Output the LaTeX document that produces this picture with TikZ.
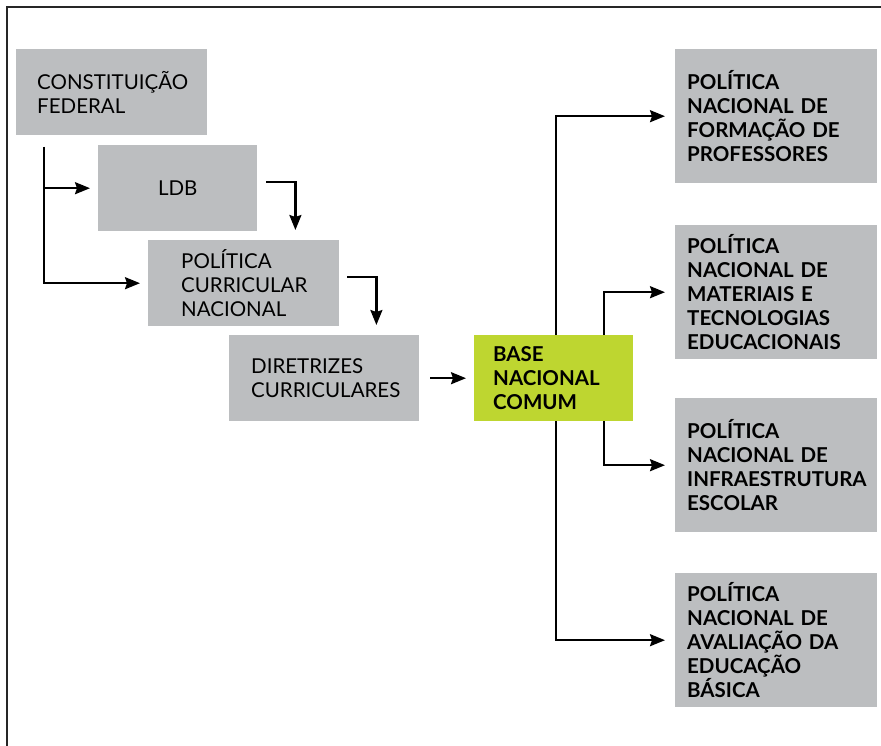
\documentclass[tikz,border=0pt]{standalone}
\usepackage{fontspec}
\setmainfont{Lato}
\usetikzlibrary{arrows.meta,positioning}

\definecolor{boxgray}{RGB}{188,190,192}
\definecolor{basegreen}{RGB}{190,214,48}

\begin{document}
\begin{tikzpicture}[
    x=1pt, y=-1pt,
    graybox/.style={rectangle, fill=boxgray, inner sep=0pt, anchor=north west, align=left, font=\fontsize{20.5}{24}\selectfont},
    leftbox/.style={graybox, minimum height=86pt},
    rightbox/.style={graybox, minimum width=202pt, text width=178pt, minimum height=134pt, font=\fontsize{20.5}{24}\selectfont\bfseries},
    greenbox/.style={graybox, fill=basegreen, minimum width=159pt, text width=121pt, minimum height=86pt, font=\fontsize{20.5}{24}\selectfont\bfseries},
    arrow/.style={-{Stealth[length=15pt,width=12pt,inset=2pt]}, line width=2.2pt}
]
\useasboundingbox (0,0) rectangle (881,746);

% Frame
\draw[line width=2pt, black!85] (7,746) -- (7,7) -- (881,7);

% Left chain
\node[leftbox, minimum width=191pt, text width=149pt] (cf) at (16,49) {CONSTITUIÇÃO\\FEDERAL};
\node[leftbox, minimum width=159pt, align=center] (ldb) at (98,145) {LDB};
\node[leftbox, minimum width=191pt, text width=125pt] (pcn) at (148,240) {POLÍTICA\\CURRICULAR\\NACIONAL};
\node[leftbox, minimum width=190pt, text width=146pt] (dir) at (229,335) {DIRETRIZES\\CURRICULARES};

% Base
\node[greenbox] (bnc) at (474,335) {BASE\\NACIONAL\\COMUM};

% Right column
\node[rightbox] (pf) at (675,49) {POLÍTICA\\NACIONAL DE\\FORMAÇÃO DE\\PROFESSORES};
\node[rightbox] (pm) at (675,225) {POLÍTICA\\NACIONAL DE\\MATERIAIS E\\TECNOLOGIAS\\EDUCACIONAIS};
\node[rightbox] (pi) at (675,398) {POLÍTICA\\NACIONAL DE\\INFRAESTRUTURA\\ESCOLAR};
\node[rightbox] (pa) at (675,573) {POLÍTICA\\NACIONAL DE\\AVALIAÇÃO DA\\EDUCAÇÃO\\BÁSICA};

% Arrows on the left
\coordinate (cfstart) at (44,147);
\draw[arrow, shorten >=8pt] (cfstart) |- (ldb.west);
\draw[arrow, shorten >=8pt] (cfstart) |- (pcn.west);
\draw[arrow] ([xshift=9pt,yshift=6pt]ldb.east) -| ([xshift=-44pt,yshift=10pt]pcn.north east);
\draw[arrow] ([xshift=8pt,yshift=6pt]pcn.east) -| ([xshift=-43pt,yshift=10pt]dir.north east);
\draw[arrow, shorten <=11pt, shorten >=8pt] (dir) -- (bnc);

% Arrows on the right
\draw[arrow, shorten >=10pt] ([xshift=2.5pt]bnc.north) |- (pf.west);
\draw[arrow, shorten >=10pt] ([xshift=2.5pt]bnc.south) |- (pa.west);
\draw[arrow, shorten >=10pt] ([xshift=50.5pt]bnc.north) |- (pm.west);
\draw[arrow, shorten >=10pt] ([xshift=50.5pt]bnc.south) |- (pi.west);

\end{tikzpicture}
\end{document}
